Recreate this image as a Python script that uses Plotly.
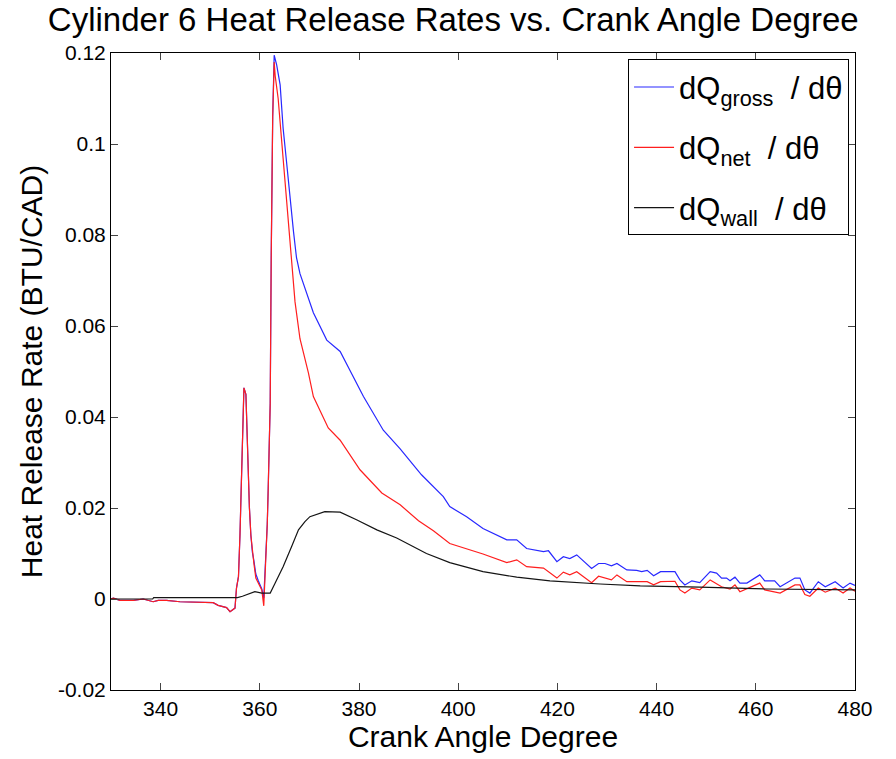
import plotly.graph_objects as go

# ---- data ----
gross_cad = [330, 330.5, 331.8, 334.5, 336.5, 338.5, 339.5, 341.2, 343.9, 347.9, 350.6, 351.6, 353.3, 354.0, 355.0,
             355.3, 355.7, 356.0, 356.3, 356.5, 356.8, 357.2, 357.4, 357.6, 357.9, 358.2, 358.5, 358.8, 359.2, 359.7,
             360.4, 360.8, 361.2, 361.5, 361.7, 362.1, 362.3, 362.6, 362.9, 363.4, 364.1, 364.7, 365.4, 366.1, 366.8,
             367.4, 368.1, 370.8, 373.5, 376.2, 378.2, 380.9, 384.9, 388.3, 392.6, 397.0, 398.3, 401.7, 405.0, 409.8,
             411.8, 413.8, 417.2, 418.2, 419.9, 421.2, 422.5, 423.9, 426.9, 428.3, 429.6, 430.9, 432.0, 434.0, 436.0,
             437.0, 438.1, 439.4, 440.8, 443.7, 444.7, 445.7, 447.1, 448.7, 450.8, 452.1, 453.1, 454.1, 454.8, 455.8,
             456.8, 458.2, 460.8, 461.8, 463.8, 464.9, 467.9, 468.9, 469.9, 470.9, 472.6, 474.0, 476.0, 477.6, 479.0, 480]
gross_rate = [0.0, 0.0002, -0.0003, -0.0003, 0.0, -0.0006, -0.0003, -0.0003, -0.0006, -0.0008, -0.0008, -0.0014, -0.0019, -0.0028, -0.002,
              0.0024, 0.0049, 0.014, 0.0255, 0.0365, 0.0464, 0.045, 0.0367, 0.0288, 0.0202, 0.014, 0.0103, 0.0085, 0.0055, 0.004,
              0.0022, 0.0002, 0.0081, 0.0163, 0.0244, 0.043, 0.075, 0.106, 0.1195, 0.1174, 0.113, 0.1035, 0.096, 0.088, 0.0807,
              0.075, 0.0715, 0.0629, 0.0569, 0.0544, 0.0503, 0.0445, 0.0371, 0.0330, 0.0273, 0.0225, 0.0203, 0.0181, 0.0155, 0.013,
              0.013, 0.0111, 0.0104, 0.0106, 0.0082, 0.0093, 0.0089, 0.0097, 0.0067, 0.0078, 0.0078, 0.0073, 0.0078, 0.0064, 0.0063,
              0.006, 0.0063, 0.0051, 0.006, 0.006, 0.0042, 0.0031, 0.004, 0.0036, 0.006, 0.0057, 0.0046, 0.0046, 0.004, 0.0048,
              0.0035, 0.0035, 0.0053, 0.004, 0.004, 0.0027, 0.0046, 0.0046, 0.002, 0.0013, 0.0038, 0.0027, 0.0038, 0.0024, 0.0035, 0.003]

net_cad = [330, 330.5, 331.8, 334.5, 336.5, 338.5, 339.5, 341.2, 343.9, 347.9, 350.6, 351.6, 353.3, 354.0, 355.0,
           355.3, 355.7, 356.0, 356.3, 356.5, 356.8, 357.2, 357.4, 357.6, 357.9, 358.2, 358.5, 358.8, 359.2, 359.7,
           360.4, 360.8, 361.2, 361.5, 361.7, 362.1, 362.3, 362.6, 362.9, 363.1, 363.7, 364.4, 365.1, 365.7, 366.4,
           367.1, 368.1, 369.8, 370.8, 373.8, 376.2, 380.2, 384.6, 388.3, 392.0, 395.0, 398.3, 401.7, 405.0, 409.8,
           411.8, 413.8, 417.2, 419.9, 421.2, 422.5, 423.9, 426.9, 428.3, 430.9, 432.0, 434.0, 438.1, 439.4, 440.8,
           443.7, 444.7, 445.7, 447.1, 448.7, 450.8, 453.1, 454.8, 455.8, 456.8, 460.8, 461.8, 464.9, 467.9, 468.9,
           469.9, 470.9, 472.6, 474.0, 476.0, 477.6, 479.0, 480]
net_rate = [0.0, 0.0002, -0.0003, -0.0003, 0.0, -0.0006, -0.0003, -0.0003, -0.0006, -0.0008, -0.0008, -0.0014, -0.0019, -0.0028, -0.002,
            0.0024, 0.0049, 0.014, 0.0255, 0.0365, 0.0464, 0.045, 0.0367, 0.0288, 0.0202, 0.014, 0.0103, 0.0079, 0.0046, 0.0035,
            0.002, -0.0015, 0.0081, 0.0163, 0.0244, 0.043, 0.075, 0.106, 0.118, 0.115, 0.110, 0.101, 0.0925, 0.0837, 0.075,
            0.0653, 0.0572, 0.0497, 0.0445, 0.0376, 0.0349, 0.0284, 0.0233, 0.0207, 0.0172, 0.0150, 0.0122, 0.0111, 0.0099, 0.008,
            0.0086, 0.0071, 0.0068, 0.0046, 0.0059, 0.0053, 0.006, 0.0036, 0.005, 0.0042, 0.0053, 0.0038, 0.0038, 0.0031, 0.0038,
            0.0039, 0.002, 0.0013, 0.0024, 0.002, 0.0042, 0.0027, 0.0022, 0.0031, 0.0016, 0.0035, 0.002, 0.0013, 0.0031, 0.0031,
            0.001, 0.0006, 0.0024, 0.0015, 0.0024, 0.0013, 0.0024, 0.0017]

wall_cad = [330, 338.4, 338.6, 355.5, 356.5, 357.7, 359.0, 360.4, 362.1, 363.1, 364.7, 366.4, 367.8, 369.1, 370.1,
            373.1, 376.2, 379.5, 383.6, 387.6, 393.6, 398.3, 405.0, 411.8, 418.5, 428.6, 436.7, 448.7, 462.1, 480]
wall_rate = [0.0, 0.0, 0.0003, 0.0003, 0.0006, 0.0011, 0.0016, 0.0013, 0.0013, 0.0035, 0.0071, 0.0115, 0.0152, 0.0170, 0.0181,
             0.0192, 0.0191, 0.0174, 0.0152, 0.0134, 0.0100, 0.0080, 0.006, 0.0048, 0.004, 0.0033, 0.0029, 0.0026, 0.0022, 0.002]

x_ticks = [340, 360, 380, 400, 420, 440, 460, 480]
y_ticks = [-0.02, 0, 0.02, 0.04, 0.06, 0.08, 0.1, 0.12]
y_ticktext = ["-0.02", "0", "0.02", "0.04", "0.06", "0.08", "0.1", "0.12"]

FONT = "Liberation Sans, Arial, sans-serif"

fig = go.Figure()
fig.add_trace(go.Scatter(x=gross_cad, y=gross_rate, mode="lines", legendgroup="g",
                         line=dict(color="rgb(40,40,255)", width=1.2),
                         name="dQ<sub>gross</sub>  / dθ"))
fig.add_trace(go.Scatter(x=net_cad, y=net_rate, mode="lines", legendgroup="n",
                         line=dict(color="rgb(255,30,30)", width=1.2),
                         name="dQ<sub>net</sub>  / dθ"))
fig.add_trace(go.Scatter(x=wall_cad, y=wall_rate, mode="lines", legendgroup="w",
                         line=dict(color="rgb(20,20,20)", width=1.2),
                         name="dQ<sub>wall</sub>  / dθ"))

fig.update_layout(
    width=896, height=759,
    paper_bgcolor="white", plot_bgcolor="white",
    margin=dict(l=111, r=41, t=53, b=69),
    font=dict(family=FONT, color="black"),
    title=dict(text="Cylinder 6 Heat Release Rates vs. Crank Angle Degree",
               x=0.46, xref="paper", xanchor="center", y=0.975, yref="container", yanchor="middle",
               font=dict(size=33, family=FONT, color="black")),
    showlegend=True,
    legend=dict(x=0.992, y=0.99, xanchor="right", yanchor="top",
                bgcolor="white", bordercolor="black", borderwidth=1,
                font=dict(size=31, family=FONT, color="black"),
                itemwidth=40, tracegroupgap=17),
)
fig.update_xaxes(range=[330, 480], tickvals=x_ticks, ticks="inside", ticklen=7,
                 showline=True, linecolor="black", linewidth=1, mirror="ticks",
                 showgrid=False, zeroline=False,
                 tickfont=dict(size=21, family=FONT),
                 title=dict(text="Crank Angle Degree", font=dict(size=30, family=FONT), standoff=4))
fig.update_yaxes(range=[-0.02, 0.12], tickvals=y_ticks, ticktext=y_ticktext, ticks="inside", ticklen=7,
                 showline=True, linecolor="black", linewidth=1, mirror="ticks",
                 showgrid=False, zeroline=False,
                 tickfont=dict(size=21, family=FONT),
                 title=dict(text="Heat Release Rate (BTU/CAD)", font=dict(size=30, family=FONT), standoff=6))

fig.write_html("out.html")
